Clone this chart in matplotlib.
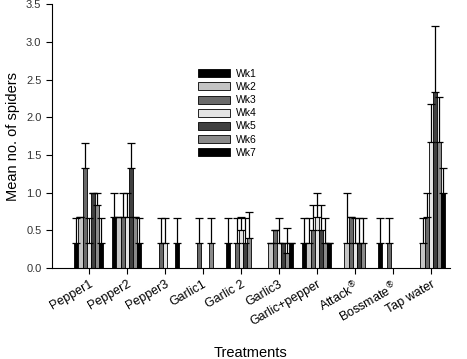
import numpy as np
import matplotlib
matplotlib.use("Agg")
import matplotlib.pyplot as plt

plt.rcParams['font.family'] = ['Liberation Sans', 'DejaVu Sans']

treatments = ['Pepper1', 'Pepper2', 'Pepper3', 'Garlic1', 'Garlic 2', 'Garlic3',
              'Garlic+pepper', 'Attack$^{®}$', 'Bossmate$^{®}$', 'Tap water']
weeks = ['Wk1', 'Wk2', 'Wk3', 'Wk4', 'Wk5', 'Wk6', 'Wk7']

# mean per treatment (rows) and week (columns)
wk1 = [0.33, 0.67, 0.00, 0.00, 0.33, 0.00, 0.33, 0.00, 0.33, 0.00]
wk2 = [0.67, 0.67, 0.00, 0.00, 0.00, 0.33, 0.33, 0.33, 0.00, 0.33]
wk3 = [1.33, 0.67, 0.33, 0.33, 0.33, 0.50, 0.50, 0.67, 0.33, 0.67]
wk4 = [0.33, 0.67, 0.33, 0.00, 0.50, 0.33, 0.67, 0.33, 0.00, 1.67]
wk5 = [1.00, 1.33, 0.00, 0.00, 0.33, 0.33, 0.50, 0.33, 0.00, 2.33]
wk6 = [0.83, 0.67, 0.00, 0.33, 0.40, 0.20, 0.33, 0.33, 0.00, 1.67]
wk7 = [0.33, 0.33, 0.33, 0.00, 0.00, 0.33, 0.33, 0.00, 0.00, 1.00]

# standard errors (upper only)
se1 = [0.33, 0.33, 0.00, 0.00, 0.33, 0.00, 0.33, 0.00, 0.33, 0.00]
se2 = [0.00, 0.00, 0.00, 0.00, 0.00, 0.00, 0.33, 0.67, 0.00, 0.33]
se3 = [0.33, 0.33, 0.33, 0.33, 0.33, 0.00, 0.33, 0.00, 0.33, 0.33]
se4 = [0.33, 0.33, 0.33, 0.00, 0.17, 0.33, 0.33, 0.33, 0.00, 0.50]
se5 = [0.00, 0.33, 0.00, 0.00, 0.33, 0.00, 0.33, 0.33, 0.00, 0.88]
se6 = [0.17, 0.00, 0.00, 0.33, 0.34, 0.33, 0.33, 0.33, 0.00, 0.60]
se7 = [0.33, 0.33, 0.33, 0.00, 0.00, 0.00, 0.00, 0.00, 0.00, 0.33]

means = [wk1, wk2, wk3, wk4, wk5, wk6, wk7]
errs = [se1, se2, se3, se4, se5, se6, se7]
colors = ['#000000', '#c4c4c4', '#6a6a6a', '#e4e4e4', '#404040', '#8a8a8a', '#000000']

fig = plt.figure(figsize=(4.67, 3.59), dpi=100)
ax = fig.add_axes([0.111, 0.2535, 0.852, 0.735])

x = np.arange(len(treatments))
w = 0.108
for i in range(7):
    pos = x + (i - 3) * w
    m = np.array(means[i])
    e = np.array(errs[i])
    ax.bar(pos, m, w, color=colors[i], edgecolor='black', linewidth=0.6,
           label=weeks[i], zorder=2)
    # skip empty weeks so no stray caps sit on the axis
    keep = m > 0
    ax.errorbar(pos[keep], m[keep], yerr=[np.zeros(keep.sum()), e[keep]], fmt='none',
                ecolor='black', elinewidth=0.9, capsize=3, capthick=0.9, zorder=3)

ax.set_xlim(-0.97, 9.5)
ax.set_ylim(0, 3.5)
ax.set_yticks(np.arange(0, 3.51, 0.5))
ax.set_yticklabels([f'{v:.1f}' for v in np.arange(0, 3.51, 0.5)], fontsize=8, color='#333333')
ax.set_xticks(x)
ax.set_xticklabels(treatments, rotation=30, ha='right', rotation_mode='anchor', fontsize=9)
ax.spines['top'].set_visible(False)
ax.spines['right'].set_visible(False)
ax.tick_params(direction='out', length=4, width=0.8)
ax.set_ylabel('Mean no. of spiders', fontsize=10.5)
ax.set_xlabel('Treatments', fontsize=10.5, labelpad=13)

ax.legend(loc='upper left', bbox_to_anchor=(0.345, 0.79), frameon=False, fontsize=7.5,
          handlelength=3.0, handleheight=0.8, labelspacing=0.3, handletextpad=0.6)

fig.savefig('out.png', dpi=100)
